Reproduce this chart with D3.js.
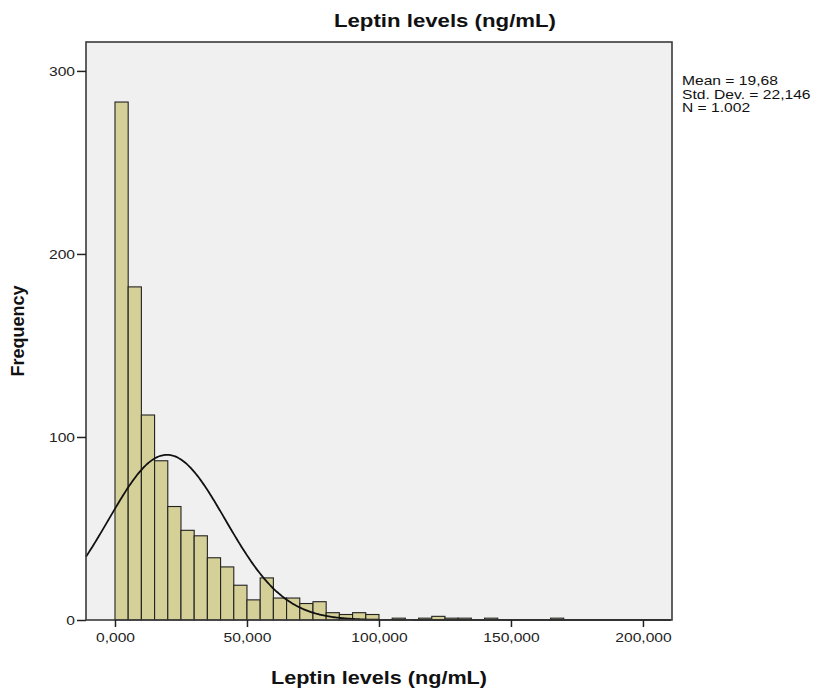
<!DOCTYPE html>
<html>
<head>
<meta charset="utf-8">
<script src="https://cdn.jsdelivr.net/npm/d3@7"></script>
<style>
  body { margin: 0; background: #fff; }
  text { font-family: "Liberation Sans", Arial, sans-serif; }
</style>
</head>
<body>
<div id="chart"></div>
<script>
// histogram bins (lower edge, ng/mL) and their frequencies
let binStarts = [0, 5, 10, 15, 20, 25, 30, 35, 40, 45, 50, 55, 60, 65, 70, 75, 80, 85, 90, 95,
  105, 115, 120, 125, 130, 140, 165];
let counts = [283, 182, 112, 87, 62, 49, 46, 34, 29, 19, 11, 23, 12, 12, 9, 10, 4, 3, 4, 3,
  1, 1, 2, 1, 1, 1, 1];
let binWidth = 5;

// summary stats shown at the right
let statMean = 19.68;
let statSD = 22.146;
let statN = 1002;
let statLines = ["Mean = 19,68", "Std. Dev. = 22,146", "N = 1.002"];

let xTicks = [0, 50, 100, 150, 200];
let yTicks = [0, 100, 200, 300];

let W = 816, H = 693;
let plot = { left: 86, right: 672, top: 42, bottom: 620 };

let svg = d3.select("#chart").append("svg")
  .attr("width", W)
  .attr("height", H);

// scales
let x = d3.scaleLinear().domain([-10.98, 211]).range([plot.left, plot.right]);
let y = d3.scaleLinear().domain([0, 315.8]).range([plot.bottom, plot.top]);

let loc = d3.formatLocale({ decimal: ",", thousands: ".", grouping: [3], currency: ["", ""] });
let fmt = loc.format(".3f");

// the picture looks stretched sideways, so widen text a bit
function stretch(sel, k) {
  sel.each(function () {
    let len = this.getComputedTextLength();
    d3.select(this).attr("textLength", len * k).attr("lengthAdjust", "spacingAndGlyphs");
  });
}

// plot background
svg.append("rect")
  .attr("x", plot.left)
  .attr("y", plot.top)
  .attr("width", plot.right - plot.left)
  .attr("height", plot.bottom - plot.top)
  .attr("fill", "#f0f0f0");

// bars
svg.append("g")
  .selectAll("rect")
  .data(binStarts.map((b, i) => ({ x0: b, n: counts[i] })))
  .enter()
  .append("rect")
  .attr("x", d => x(d.x0))
  .attr("y", d => y(d.n))
  .attr("width", d => x(d.x0 + binWidth) - x(d.x0))
  .attr("height", d => y(0) - y(d.n))
  .attr("fill", "#d5cf98")
  .attr("stroke", "#222")
  .attr("stroke-width", 1.1);

// normal curve from the summary stats
let curvePts = d3.range(x.domain()[0], x.domain()[1] + 0.01, 0.5).map(v => {
  let z = (v - statMean) / statSD;
  return [v, statN * binWidth / (statSD * Math.sqrt(2 * Math.PI)) * Math.exp(-0.5 * z * z)];
});
svg.append("path")
  .datum(curvePts)
  .attr("fill", "none")
  .attr("stroke", "#111")
  .attr("stroke-width", 1.8)
  .attr("d", d3.line().x(d => x(d[0])).y(d => y(d[1])).curve(d3.curveBasis));

// frame
svg.append("rect")
  .attr("x", plot.left)
  .attr("y", plot.top)
  .attr("width", plot.right - plot.left)
  .attr("height", plot.bottom - plot.top)
  .attr("fill", "none")
  .attr("stroke", "#3a3a3a")
  .attr("stroke-width", 1.6);

// x axis
let xAxis = svg.append("g")
  .attr("transform", "translate(0," + plot.bottom + ")")
  .call(d3.axisBottom(x).tickValues(xTicks).tickFormat(fmt).tickSize(7).tickPadding(6));
xAxis.select(".domain").remove();
xAxis.selectAll("line").attr("stroke", "#222").attr("stroke-width", 1.5);
xAxis.selectAll("text")
  .attr("font-size", 13)
  .attr("fill", "#222")
  .attr("font-family", "Liberation Sans, Arial, sans-serif");

// y axis
let yAxis = svg.append("g")
  .attr("transform", "translate(" + plot.left + ",0)")
  .call(d3.axisLeft(y).tickValues(yTicks).tickSize(9).tickPadding(2));
yAxis.select(".domain").remove();
yAxis.selectAll("line").attr("stroke", "#222").attr("stroke-width", 1.5);
yAxis.selectAll("text")
  .attr("font-size", 13)
  .attr("fill", "#222")
  .attr("font-family", "Liberation Sans, Arial, sans-serif");

// title
svg.append("text")
  .attr("class", "title")
  .attr("x", 445)
  .attr("y", 27)
  .attr("text-anchor", "middle")
  .attr("font-size", 18.5)
  .attr("font-weight", "bold")
  .attr("fill", "#111")
  .text("Leptin levels (ng/mL)");

// axis labels
svg.append("text")
  .attr("class", "xlabel")
  .attr("x", (plot.left + plot.right) / 2)
  .attr("y", 684)
  .attr("text-anchor", "middle")
  .attr("font-size", 18)
  .attr("font-weight", "bold")
  .attr("fill", "#111")
  .text("Leptin levels (ng/mL)");

svg.append("text")
  .attr("transform", "translate(24," + (plot.top + plot.bottom) / 2 + ") rotate(-90)")
  .attr("text-anchor", "middle")
  .attr("font-size", 18)
  .attr("font-weight", "bold")
  .attr("fill", "#111")
  .text("Frequency");

// stats box text
svg.append("g")
  .selectAll("text")
  .data(statLines)
  .enter()
  .append("text")
  .attr("class", "stat")
  .attr("x", 682)
  .attr("y", (d, i) => 85 + i * 13.5)
  .attr("font-size", 13)
  .attr("fill", "#111")
  .text(d => d);

stretch(svg.selectAll(".tick text, .title, .xlabel, .stat"), 1.2);
</script>
</body>
</html>
